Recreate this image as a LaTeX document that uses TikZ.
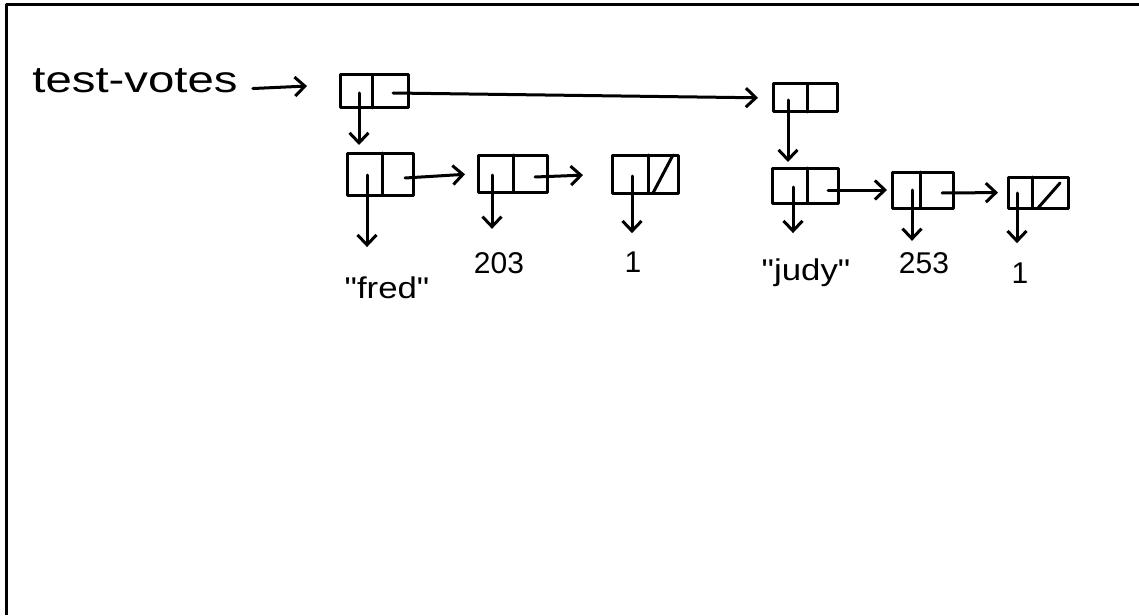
\documentclass[tikz,border=0pt]{standalone}
\usepackage{fontspec}
\usepackage{graphicx}
\setmainfont{Liberation Sans}
\usetikzlibrary{arrows.meta,calc}
\begin{document}
\begin{tikzpicture}[x=1pt,y=-1pt,
  ink/.style={line width=3pt, line cap=round, line join=round},
  cell/.style={ink, draw, rectangle, inner sep=0pt, outer sep=0pt},
  ptr/.style={ink, -{Straight Barb[length=10pt,width=19pt]}},
  lbl/.style={inner sep=0pt, anchor=base, font=\fontsize{30}{36}\selectfont}]
\useasboundingbox (0,0) rectangle (1139,615);

% page frame (top and left edges)
\draw[ink, line cap=butt] (6,615) -- (6,5) -- (1139,5);

% the variable name
\node[lbl, font=\fontsize{37}{44}\selectfont] (tv) at (135,93) {\scalebox{1.28}[1]{test-votes}};

% outer list spine
\node[cell, minimum width=68pt, minimum height=33pt] (B1) at (374,91.5) {};
\draw[ink] ($(B1.north west)+(32,0)$) -- ($(B1.south west)+(32,0)$);
\node[cell, minimum width=64pt, minimum height=28pt] (A) at (805,98) {};
\draw[ink] ($(A.north west)+(34,0)$) -- ($(A.south west)+(34,0)$);

% first inner list: ("fred" 203 1)
\node[cell, minimum width=66pt, minimum height=42pt] (C1) at (380,174) {};
\draw[ink] ($(C1.north west)+(35,0)$) -- ($(C1.south west)+(35,0)$);
\node[cell, minimum width=69pt, minimum height=37pt] (C2) at (512.5,173.5) {};
\draw[ink] ($(C2.north west)+(35,0)$) -- ($(C2.south west)+(35,0)$);
\node[cell, minimum width=66pt, minimum height=38pt] (C3) at (645,174) {};
\draw[ink] ($(C3.north west)+(36,0)$) -- ($(C3.south west)+(36,0)$);
\draw[ink] ($(C3.south west)+(41,0)$) -- ($(C3.north west)+(61,0)$);

% second inner list: ("judy" 253 1)
\node[cell, minimum width=66pt, minimum height=35pt] (D1) at (805,185.5) {};
\draw[ink] ($(D1.north west)+(35,0)$) -- ($(D1.south west)+(35,0)$);
\node[cell, minimum width=61pt, minimum height=36pt] (D2) at (922.5,190) {};
\draw[ink] ($(D2.north west)+(28,0)$) -- ($(D2.south west)+(28,0)$);
\node[cell, minimum width=60pt, minimum height=31pt] (D3) at (1038,192.5) {};
\draw[ink] ($(D3.north west)+(24,0)$) -- ($(D3.south west)+(24,0)$);
\draw[ink] ($(D3.south west)+(30,0)$) -- ($(D3.north west)+(52,6)$);

% atoms
\node[lbl] (fred) at (387,298) {\scalebox{1.16}[1]{\textquotedbl fred\textquotedbl}};
\node[lbl] (n203) at (499,273) {203};
\node[lbl] (oneA) at (633,272) {1};
\node[lbl] (judy) at (806,280) {\scalebox{1.16}[1]{\textquotedbl judy\textquotedbl}};
\node[lbl] (n253) at (924,273) {253};
\node[lbl] (oneB) at (1020,283) {1};

% pointer origins inside the cells
\coordinate (B1car) at (359,93);
\coordinate (B1cdr) at (393,93);
\coordinate (Acar)  at (788,100);
\coordinate (C1car) at (367,175);
\coordinate (C1cdr) at (405,178);
\coordinate (C2car) at (492,175);
\coordinate (C2cdr) at (535,177);
\coordinate (C3car) at (632,176);
\coordinate (D1car) at (793,187);
\coordinate (D1cdr) at (828,190);
\coordinate (D2car) at (912,190);
\coordinate (D2cdr) at (942,193);
\coordinate (D3car) at (1017,193);

% pointers
\draw[ptr, shorten <=15pt, shorten >=33pt] ([yshift=-8pt]tv.east) -- ([yshift=7pt]B1.west);
\draw[ptr, shorten >=15pt] (B1cdr) -- (A.west);
\draw[ptr, shorten >=8pt] (B1car) -- (B1car |- C1.north);
\draw[ptr, shorten >=6pt] (Acar) -- (Acar |- D1.north);

\draw[ptr, shorten >=13pt] (C1cdr) -- (C2.west);
\draw[ptr, shorten >=29pt] (C2cdr) -- (C3.west);
\draw[ptr, shorten >=5pt] (D1cdr) -- (D2.west);
\draw[ptr, shorten >=10pt] (D2cdr) -- (D3.west);

\draw[ptr, shorten >=29pt] (C1car) -- (C1car |- fred.north);
\draw[ptr, shorten >=23pt] (C2car) -- (C2car |- n203.north);
\draw[ptr, shorten >=18pt] (C3car) -- (C3car |- oneA.north);
\draw[ptr, shorten >=25pt] (D1car) -- (D1car |- judy.north);
\draw[ptr, shorten >=11pt] (D2car) -- (D2car |- n253.north);
\draw[ptr, shorten >=19pt] (D3car) -- (D3car |- oneB.north);
\end{tikzpicture}
\end{document}
